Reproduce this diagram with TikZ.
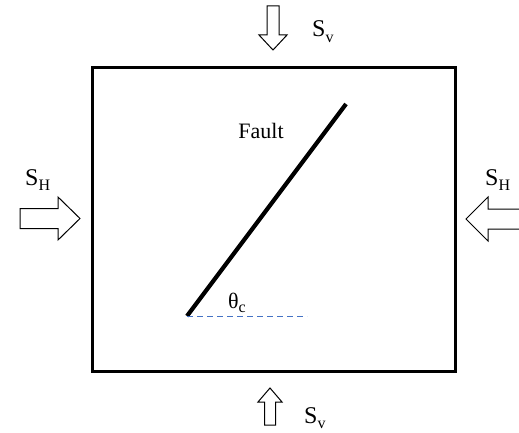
\documentclass[tikz,border=0pt]{standalone}
\usepackage{fontspec}
\setmainfont{Liberation Serif}
\begin{document}
\begin{tikzpicture}[x=1pt,y=-1pt,
  lbl/.style={inner sep=0pt, anchor=base west, font=\fontsize{24}{26}\selectfont},
  txt/.style={inner sep=0pt, anchor=base, font=\fontsize{22}{24}\selectfont},
  stressarrow/.style={draw=black, line width=1pt, fill=white, line join=miter}]
\newcommand{\subtxt}[1]{\raisebox{-0.22em}{\fontsize{16}{16}\selectfont #1}}
\useasboundingbox (0,0) rectangle (519,433);
% box
\node[draw, line width=2.6pt, minimum width=363pt, minimum height=304pt, inner sep=0pt, anchor=north west] (box) at (91,66) {};
% fault
\coordinate (f0) at (187,316);
\coordinate (f1) at (346,104);
\coordinate (d1) at (307,316);
\draw[line width=4.2pt] (f0) -- (f1);
\draw[color={rgb,255:red,68;green,114;blue,196}, line width=1pt, dash pattern=on 6pt off 4pt] (f0) -- (d1);
% texts
\node[txt] (fault) at (261,139) {Fault};
\node[txt, anchor=base west] (theta) at (228,308) {θ\subtxt{c}};
% top arrow
\draw[stressarrow] (267,6) -- (279,6) -- (279,35) -- (287,35) -- (273,50) -- (259,35) -- (267,35) -- cycle;
\node[lbl] (svtop) at (312,37) {S\subtxt{v}};
% bottom arrow
\draw[stressarrow] (264.5,425) -- (275.5,425) -- (275.5,402) -- (282,402) -- (270,388) -- (258,402) -- (264.5,402) -- cycle;
\node[lbl] (svbot) at (304,423) {S\subtxt{v}};
% left arrow
\draw[stressarrow] (20,208.5) -- (58,208.5) -- (58,197) -- (80,218.5) -- (58,240) -- (58,228.5) -- (20,228.5) -- cycle;
\node[lbl] (shl) at (25,185) {S\subtxt{H}};
% right arrow
\draw[stressarrow] (522,209) -- (488,209) -- (488,197) -- (466,219) -- (488,241) -- (488,229) -- (522,229);
\node[lbl] (shr) at (485,185) {S\subtxt{H}};
\end{tikzpicture}
\end{document}
